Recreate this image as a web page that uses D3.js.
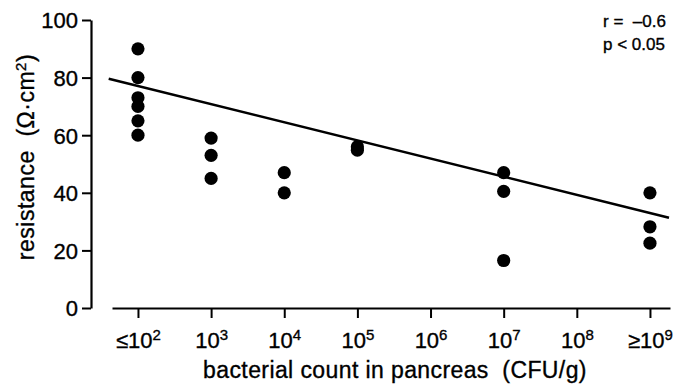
<!DOCTYPE html>
<html>
<head>
<meta charset="utf-8">
<script src="https://cdn.jsdelivr.net/npm/d3@7"></script>
<style>
  html, body { margin: 0; padding: 0; background: #fff; }
  svg { display: block; font-family: "Liberation Sans", Arial, Helvetica, sans-serif; }
  text { stroke: #000; stroke-width: 0.35px; }
</style>
</head>
<body>
<svg id="chart" width="678" height="385"></svg>
<script>
// ---- data ----
const categories = ["≤10|2", "10|3", "10|4", "10|5", "10|6", "10|7", "10|8", "≥10|9"];
const groupIndex = [0,0,0,0,0,0, 1,1,1, 2,2, 3,3, 5,5,5, 7,7,7];
const resistance = [90,80,73,70,65,60, 59,53,45, 47,40, 56,54.8, 47,40.5,16.5, 40,28.2,22.5];
const yTicks = [0, 20, 40, 60, 80, 100];
const fitIntercept = 77.1;
const fitSlope = -6.3;
const fitRange = [-0.4, 7.26];
const statLines = ["r =\u00A0 \u20130.6", "p < 0.05"];
const xTitle = "bacterial count in pancreas\u00A0 (CFU/g)";
const yTitle = "resistance\u00A0 (\u03A9\u00B7cm";

// ---- layout ----
const svg = d3.select("#chart");
const y = d3.scaleLinear().domain([0, 100]).range([308, 20]);
const x = d3.scaleLinear().domain([-0.355, 7.274]).range([112, 670]);

// y axis
const yAxis = svg.append("g").attr("transform", "translate(91,0)")
  .call(d3.axisLeft(y).tickValues(yTicks).tickSize(9).tickSizeOuter(0).tickPadding(4));
yAxis.select(".domain").attr("stroke", "#000").attr("stroke-width", 2.2);
yAxis.selectAll(".tick line").attr("stroke", "#000").attr("stroke-width", 2);
yAxis.selectAll(".tick text").attr("font-size", 22).attr("fill", "#000")
  .attr("font-family", "Liberation Sans, Arial, sans-serif").attr("dy", "0.36em");

// x axis
const xAxis = svg.append("g").attr("transform", "translate(0,308)")
  .call(d3.axisBottom(x).tickValues(d3.range(categories.length)).tickSize(10).tickSizeOuter(0).tickPadding(6)
    .tickFormat(() => ""));
xAxis.select(".domain").attr("stroke", "#000").attr("stroke-width", 2.2);
xAxis.selectAll(".tick line").attr("stroke", "#000").attr("stroke-width", 2);
xAxis.selectAll(".tick text").each(function(d) {
  const parts = categories[d].split("|");
  const t = d3.select(this).text(null)
    .attr("font-size", 22).attr("fill", "#000").attr("y", 40).attr("dy", 0)
    .attr("font-family", "Liberation Sans, Arial, sans-serif");
  t.append("tspan").text(parts[0]);
  t.append("tspan").attr("font-size", 15).attr("dy", -8).text(parts[1]);
});

// regression line
svg.append("line")
  .attr("x1", x(fitRange[0])).attr("y1", y(fitIntercept + fitSlope * fitRange[0]))
  .attr("x2", x(fitRange[1])).attr("y2", y(fitIntercept + fitSlope * fitRange[1]))
  .attr("stroke", "#000").attr("stroke-width", 2.6);

// points
svg.append("g").selectAll("circle")
  .data(resistance.map((v, i) => ({ g: groupIndex[i], v })))
  .join("circle")
  .attr("cx", d => x(d.g)).attr("cy", d => y(d.v)).attr("r", 6.6)
  .attr("fill", "#000");

// stats text
svg.append("g").selectAll("text").data(statLines).join("text")
  .attr("x", 603).attr("y", (d, i) => 27 + i * 23)
  .attr("font-size", 17).attr("fill", "#000").text(d => d);

// axis titles
svg.append("text").attr("x", 395).attr("y", 378).attr("text-anchor", "middle")
  .attr("font-size", 23).attr("letter-spacing", 0.4).attr("fill", "#000").text(xTitle);

const yt = svg.append("text").attr("transform", "translate(34,157) rotate(-90)")
  .attr("text-anchor", "middle").attr("font-size", 23).attr("letter-spacing", 0.5).attr("fill", "#000");
yt.append("tspan").text(yTitle);
yt.append("tspan").attr("font-size", 15).attr("dy", -8).text("2");
yt.append("tspan").attr("dy", 8).text(")");
</script>
</body>
</html>
